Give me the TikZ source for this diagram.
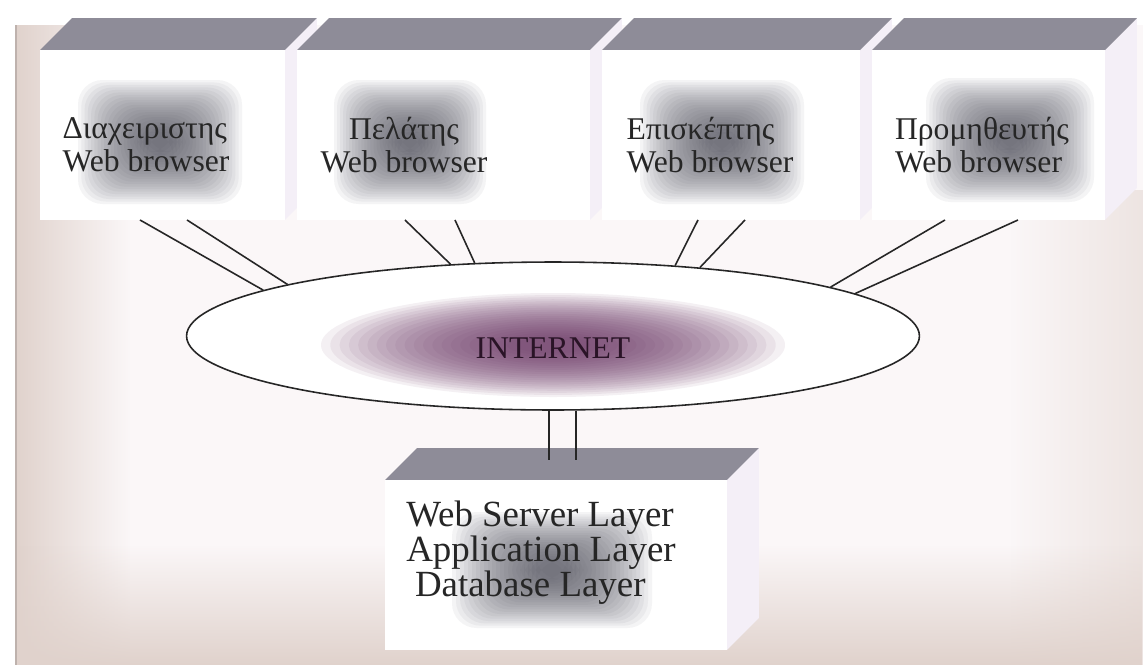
\documentclass[tikz,border=0pt]{standalone}
\usepackage{fontspec}
\setmainfont{Liberation Serif}
\usepackage{tikz}
\usetikzlibrary{calc,positioning,shapes.geometric,fadings}
\definecolor{panel}{RGB}{251,247,248}
\definecolor{sand}{RGB}{224,210,204}
\definecolor{lidgray}{RGB}{142,140,152}
\definecolor{sidelav}{RGB}{244,239,247}
\definecolor{smoke}{RGB}{70,70,82}
\definecolor{plum}{RGB}{104,50,98}
\tikzfading[name=fade up, top color=transparent!100, bottom color=transparent!0]
\tikzfading[name=fade right, left color=transparent!0, right color=transparent!100]
\tikzfading[name=fade left, left color=transparent!100, right color=transparent!50]
\tikzset{
  front/.style={rectangle, inner sep=0pt, outer sep=0pt, minimum height=3.4cm},
  lid/.style={fill=lidgray},
  side/.style={fill=sidelav},
  haze/.style={fill=smoke, opacity=0.055, rounded corners=14pt},
  plumhaze/.style={fill=plum, opacity=0.07},
  wire/.style={line width=0.9pt, draw=black!85},
  cloud/.style={ellipse, draw=black!85, line width=0.9pt, fill=white, inner sep=0pt,
                minimum width=14.66cm, minimum height=2.96cm},
  lbl/.style={font=\fontsize{18}{18.5}\selectfont, inner sep=0pt, align=left, text=black!85},
  layers/.style={font=\fontsize{21}{20}\selectfont, inner sep=0pt, align=left, text=black!85},
  netlbl/.style={font=\fontsize{18}{18}\selectfont, inner sep=0pt, text=plum!40!black},
}
\begin{document}
\begin{tikzpicture}[x=0.02cm, y=-0.02cm]
\useasboundingbox (0,0) rectangle (1143,670);
\fill[white] (0,0) rectangle (1143,670);
\fill[panel] (15,25) rectangle (1143,665);
\fill[sand, path fading=fade right] (15,25) rectangle (130,665);
\fill[sand, path fading=fade left] (1010,190) rectangle (1143,665);
\fill[sand, path fading=fade up] (15,545) rectangle (1143,665);
\fill[sand!85!black] (15,25) rectangle (17,665);

\node[front, minimum width=4.9cm] (adm) at (162.5,135) {};
\node[front, minimum width=5.86cm] (cli) at (443.5,135) {};
\node[front, minimum width=5.16cm] (vis) at (731,135) {};
\node[front, minimum width=4.66cm] (sup) at (988.5,135) {};
\node[front, minimum width=6.84cm] (srv) at (556,565) {};

\foreach \b in {adm,cli,vis,sup,srv}{
  \fill[side] (\b.north east) -- ++(32,-32) -- ($(\b.south east)+(32,-32)$) -- (\b.south east) -- cycle;
  \fill[lid] (\b.north west) -- ++(32,-32) -- ($(\b.north east)+(32,-32)$) -- (\b.north east) -- cycle;
  \fill[white] (\b.north west) rectangle (\b.south east);
}

\foreach \hx/\hy/\hw/\hh in {160/142/82/62, 410/142/76/62, 722/142/82/62, 1010/140/84/62, 552/570/100/58}{
  \foreach \i in {0,...,21}{
    \fill[haze] ({\hx-\hw*(1-\i/25)},{\hy-\hh*(1-\i/25)}) rectangle ({\hx+\hw*(1-\i/25)},{\hy+\hh*(1-\i/25)});
  }
}

\node[lbl] (admlbl) at (146,145) {Διαχειριστης\\Web browser};
\node[lbl, align=center] (clilbl) at (404,145) {Πελάτης\\Web browser};
\node[lbl] (vislbl) at (710,145) {Επισκέπτης\\Web browser};
\node[lbl] (suplbl) at (982,145) {Προμηθευτής\\Web browser};
\node[layers] (srvlbl) at (541,553) {Web Server Layer\\Application Layer\\\hspace*{5pt}Database Layer};

\node[cloud] (net) at (553,336) {};
\foreach \i in {0,...,21}{
  \fill[plumhaze] (553,345) ellipse ({232*(1-\i/25)} and {52*(1-\i/25)});
}
\node[netlbl] (inet) at ($(net)+(0,12)$) {INTERNET};

\draw[wire] ($(adm.south)+(-22.5,0)$) -- (net.171.5);
\draw[wire] ($(adm.south)+(24.5,0)$) -- (net.169.9);
\draw[wire] ($(cli.south)+(-38.5,0)$) -- (net.145.2);
\draw[wire] ($(cli.south)+(11.5,0)$) -- (net.137.4);
\draw[wire] ($(vis.south)+(-33,0)$) -- (net.30.2);
\draw[wire] ($(vis.south)+(14,0)$) -- (net.25.8);
\draw[wire] ($(sup.south)+(-43.5,0)$) -- (net.10.2);
\draw[wire] ($(sup.south)+(29.5,0)$) -- (net.8.9);
\draw[wire] (net.267.7) -- ($(net.267.7 |- srv.north)+(0,-20)$);
\draw[wire] (net.287.3) -- ($(net.287.3 |- srv.north)+(0,-20)$);
\end{tikzpicture}
\end{document}
